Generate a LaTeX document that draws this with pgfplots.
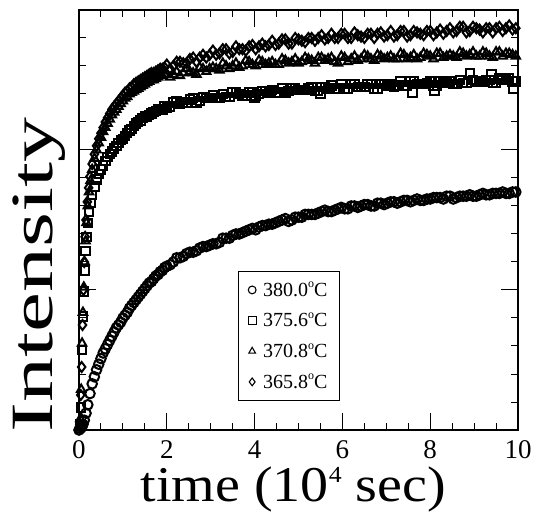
\documentclass[border=0pt]{standalone}
\usepackage{fontspec}
\setmainfont{Liberation Serif}
\usepackage{graphicx}
\usepackage{pgfplots}
\pgfplotsset{compat=1.18}
% small raised degree circle before the C
\newcommand{\degC}{\raisebox{8.5pt}{\fontsize{12}{12}\selectfont o}C}

\begin{document}
\begin{tikzpicture}
\begin{axis}[
  name=ax,
  scale only axis, width=439pt, height=420pt,
  xmin=0, xmax=10, ymin=0, ymax=3,
  xtick={0,2,...,10}, minor x tick num=3,
  ytick={0,1,2,3}, minor y tick num=4, yticklabels={},
  tick align=inside, major tick length=17pt, minor tick length=7pt,
  every tick/.style={black, line width=1pt},
  axis line style={line width=1.5pt},
  /pgf/number format/assume math mode=true,
  xticklabel style={font=\fontsize{27}{27}\selectfont, anchor=base, yshift=-28pt},
  xlabel={\scalebox{1.12}[1]{time (10\raisebox{19pt}{\fontsize{23}{23}\selectfont 4} sec)}},
  xlabel style={font=\fontsize{50}{50}\selectfont, at={(axis description cs:0.488,-0.1714)}, anchor=base, inner sep=0pt},
  ylabel={\scalebox{1.5}[1]{Intensity}},
  ylabel style={font=\fontsize{60}{60}\selectfont, at={(axis description cs:-0.0615,0.37)}, anchor=base, inner sep=0pt},
  legend style={at={(axis description cs:0.478,0.224)}, anchor=center, draw=black, line width=1pt,
    font=\fontsize{20}{23}\selectfont, row sep=11pt, column sep=5pt, inner xsep=10pt, inner ysep=9pt},
  legend cell align=left,
  legend image code/.code={\draw[#1, mark size=3.9pt, mark options={line width=1.1pt}] plot coordinates {(0pt,0pt)};},
  every axis plot/.append style={only marks, black},
]
% 380.0 C
\addplot[mark=o, mark size=4.8pt, mark options={line width=2pt}] coordinates {
(0.00,0.00) (0.03,0.01) (0.06,0.02) (0.09,0.04) (0.12,0.07) (0.16,0.12) (0.20,0.18)
(0.25,0.26) (0.30,0.33) (0.35,0.38) (0.40,0.43) (0.45,0.47) (0.50,0.51) (0.55,0.55)
(0.60,0.58) (0.65,0.61) (0.70,0.64) (0.75,0.67) (0.80,0.70) (0.85,0.73) (0.90,0.75)
(0.95,0.77) (1.00,0.80) (1.05,0.82) (1.10,0.84) (1.15,0.87) (1.20,0.89) (1.25,0.91)
(1.30,0.93) (1.35,0.95) (1.40,0.97) (1.45,0.99) (1.50,1.01) (1.55,1.03) (1.60,1.05)
(1.65,1.06) (1.70,1.08) (1.75,1.10) (1.80,1.11) (1.85,1.13) (1.90,1.14) (1.95,1.16)
(2.00,1.17) (2.075,1.18) (2.15,1.20) (2.225,1.23) (2.30,1.23) (2.375,1.24) (2.45,1.26)
(2.525,1.27) (2.60,1.27) (2.675,1.28) (2.75,1.30) (2.825,1.31) (2.90,1.31) (2.975,1.32)
(3.05,1.33) (3.125,1.33) (3.20,1.34) (3.275,1.37) (3.35,1.37) (3.425,1.37) (3.50,1.39)
(3.575,1.40) (3.65,1.40) (3.725,1.41) (3.80,1.42) (3.875,1.43) (3.95,1.44) (4.025,1.43)
(4.10,1.45) (4.175,1.46) (4.25,1.46) (4.325,1.47) (4.40,1.47) (4.475,1.48) (4.55,1.49)
(4.625,1.50) (4.70,1.51) (4.775,1.49) (4.85,1.50) (4.925,1.52) (5.00,1.52) (5.075,1.52)
(5.15,1.54) (5.225,1.54) (5.30,1.54) (5.375,1.54) (5.45,1.55) (5.525,1.56) (5.60,1.57)
(5.675,1.56) (5.75,1.56) (5.825,1.57) (5.90,1.58) (5.975,1.59) (6.05,1.58) (6.125,1.58)
(6.20,1.60) (6.275,1.60) (6.35,1.59) (6.425,1.60) (6.50,1.61) (6.575,1.61) (6.65,1.60)
(6.725,1.60) (6.80,1.62) (6.875,1.62) (6.95,1.61) (7.025,1.62) (7.10,1.63) (7.175,1.63)
(7.25,1.62) (7.325,1.63) (7.40,1.64) (7.475,1.64) (7.55,1.63) (7.625,1.64) (7.70,1.65)
(7.775,1.64) (7.85,1.64) (7.925,1.65) (8.00,1.65) (8.075,1.66) (8.15,1.66) (8.225,1.66)
(8.30,1.65) (8.375,1.67) (8.45,1.67) (8.525,1.65) (8.60,1.66) (8.675,1.67) (8.75,1.67)
(8.825,1.67) (8.90,1.68) (8.975,1.67) (9.05,1.67) (9.125,1.68) (9.20,1.69) (9.275,1.68)
(9.35,1.68) (9.425,1.69) (9.50,1.69) (9.575,1.69) (9.65,1.70) (9.725,1.69) (9.80,1.69)
(9.875,1.70) (9.95,1.70)
};
\addlegendentry{380.0\degC}
% 375.6 C
\addplot[mark=square, mark size=4.2pt, mark options={line width=2pt}] coordinates {
(0.03,0.04) (0.05,0.16) (0.07,0.57) (0.09,0.81) (0.11,0.99) (0.13,1.14) (0.15,1.28)
(0.17,1.38) (0.20,1.48) (0.23,1.56) (0.26,1.62) (0.30,1.68) (0.35,1.74) (0.40,1.79)
(0.45,1.83) (0.50,1.86) (0.55,1.89) (0.60,1.92) (0.65,1.95) (0.70,1.97) (0.75,1.99)
(0.80,2.01) (0.85,2.03) (0.90,2.05) (0.95,2.07) (1.00,2.08) (1.05,2.10) (1.10,2.12)
(1.15,2.14) (1.20,2.15) (1.25,2.17) (1.30,2.19) (1.35,2.20) (1.40,2.21) (1.45,2.23)
(1.50,2.24) (1.55,2.24) (1.60,2.25) (1.65,2.26) (1.70,2.27) (1.75,2.28) (1.80,2.29)
(1.85,2.29) (1.90,2.29) (1.95,2.31)
(2.00,2.30) (2.075,2.31) (2.15,2.34) (2.225,2.35) (2.30,2.33) (2.375,2.34) (2.45,2.34)
(2.525,2.36) (2.60,2.37) (2.675,2.34) (2.75,2.35) (2.825,2.38) (2.90,2.37) (2.975,2.37)
(3.05,2.39) (3.125,2.37) (3.20,2.37) (3.275,2.40) (3.35,2.38) (3.425,2.38) (3.50,2.41)
(3.575,2.41) (3.65,2.40) (3.725,2.39) (3.80,2.39) (3.875,2.41) (3.95,2.41) (4.00,2.37)
(4.025,2.39) (4.10,2.40) (4.175,2.42) (4.25,2.42) (4.325,2.41) (4.40,2.43) (4.475,2.41)
(4.55,2.41) (4.625,2.44) (4.70,2.41) (4.775,2.42) (4.85,2.44) (4.925,2.44) (5.00,2.43)
(5.075,2.43) (5.15,2.43) (5.225,2.44) (5.30,2.45) (5.375,2.42) (5.45,2.42) (5.50,2.40)
(5.525,2.45) (5.60,2.45) (5.675,2.44) (5.75,2.46) (5.825,2.44) (5.90,2.44) (5.975,2.47)
(6.05,2.44) (6.125,2.44) (6.20,2.47) (6.275,2.47) (6.35,2.45) (6.425,2.45) (6.50,2.45)
(6.575,2.47) (6.65,2.47) (6.725,2.44) (6.80,2.44) (6.875,2.47) (6.95,2.47) (7.025,2.46)
(7.10,2.47) (7.175,2.45) (7.25,2.46) (7.325,2.49) (7.40,2.46) (7.475,2.46) (7.55,2.49)
(7.60,2.41) (7.625,2.49) (7.70,2.47) (7.775,2.47) (7.85,2.47) (7.925,2.48) (8.00,2.49)
(8.075,2.46) (8.10,2.42) (8.15,2.46) (8.225,2.49) (8.30,2.48) (8.375,2.48) (8.45,2.49)
(8.525,2.47) (8.60,2.47) (8.675,2.50) (8.75,2.48) (8.825,2.48) (8.90,2.55) (8.975,2.50)
(9.05,2.49) (9.125,2.49) (9.20,2.49) (9.275,2.50) (9.35,2.50) (9.40,2.54) (9.425,2.48)
(9.50,2.48) (9.575,2.51) (9.65,2.50) (9.725,2.50) (9.80,2.51) (9.875,2.49) (9.90,2.44)
(9.95,2.49)
};
\addlegendentry{375.6\degC}
% 370.8 C
\addplot[mark=triangle, mark size=4.8pt, mark options={line width=2pt}] coordinates {
(0.03,0.08) (0.05,0.29) (0.07,0.62) (0.09,0.84) (0.11,1.02) (0.13,1.20) (0.15,1.35)
(0.17,1.48) (0.20,1.60) (0.23,1.70) (0.26,1.78) (0.30,1.86) (0.35,1.94) (0.40,2.00)
(0.45,2.05) (0.50,2.09) (0.55,2.13) (0.60,2.16) (0.65,2.19) (0.70,2.22) (0.75,2.25)
(0.80,2.27) (0.85,2.29) (0.90,2.31) (0.95,2.33) (1.00,2.35) (1.05,2.37) (1.10,2.38)
(1.15,2.40) (1.20,2.41) (1.25,2.42) (1.30,2.43) (1.35,2.44) (1.40,2.45) (1.45,2.46)
(1.50,2.47) (1.55,2.48) (1.60,2.49) (1.65,2.50) (1.70,2.50) (1.75,2.51) (1.80,2.52)
(1.85,2.53) (1.90,2.53) (1.95,2.54)
(2.00,2.54) (2.075,2.52) (2.15,2.54) (2.225,2.56) (2.30,2.53) (2.375,2.55) (2.45,2.58)
(2.525,2.56) (2.60,2.55) (2.675,2.54) (2.75,2.59) (2.825,2.58) (2.90,2.56) (2.975,2.58)
(3.05,2.59) (3.125,2.58) (3.20,2.57) (3.275,2.62) (3.35,2.60) (3.425,2.58) (3.50,2.60)
(3.575,2.62) (3.65,2.59) (3.725,2.60) (3.80,2.64) (3.875,2.63) (3.95,2.61) (4.025,2.60)
(4.10,2.64) (4.175,2.63) (4.25,2.61) (4.325,2.62) (4.40,2.63) (4.475,2.61) (4.55,2.61)
(4.625,2.65) (4.70,2.64) (4.775,2.62) (4.85,2.63) (4.925,2.65) (5.00,2.62) (5.075,2.63)
(5.15,2.66) (5.225,2.65) (5.30,2.64) (5.375,2.62) (5.45,2.66) (5.525,2.66) (5.60,2.64)
(5.675,2.65) (5.75,2.66) (5.825,2.63) (5.90,2.62) (5.975,2.67) (6.05,2.66) (6.125,2.63)
(6.20,2.65) (6.275,2.67) (6.35,2.64) (6.425,2.65) (6.50,2.68) (6.575,2.67) (6.65,2.65)
(6.725,2.64) (6.80,2.68) (6.875,2.67) (6.95,2.65) (7.025,2.66) (7.10,2.67) (7.175,2.65)
(7.25,2.65) (7.325,2.69) (7.40,2.68) (7.475,2.65) (7.55,2.66) (7.625,2.68) (7.70,2.65)
(7.775,2.66) (7.85,2.69) (7.925,2.68) (8.00,2.67) (8.075,2.65) (8.15,2.69) (8.225,2.69)
(8.30,2.66) (8.375,2.67) (8.45,2.68) (8.525,2.67) (8.60,2.66) (8.675,2.70) (8.75,2.69)
(8.825,2.67) (8.90,2.68) (8.975,2.70) (9.05,2.67) (9.125,2.67) (9.20,2.70) (9.275,2.69)
(9.35,2.67) (9.425,2.66) (9.50,2.70) (9.575,2.70) (9.65,2.67) (9.725,2.69) (9.80,2.69)
(9.875,2.68) (9.95,2.67)
};
\addlegendentry{370.8\degC}
% 365.8 C
\addplot[mark=diamond, mark size=5pt, mark options={line width=2pt}] coordinates {
(0.02,0.04) (0.04,0.25) (0.06,0.45) (0.08,0.75) (0.10,1.00) (0.12,1.20) (0.14,1.38)
(0.16,1.50) (0.19,1.63) (0.22,1.73) (0.25,1.81) (0.30,1.90) (0.35,1.97) (0.40,2.03)
(0.45,2.08) (0.50,2.12) (0.55,2.16) (0.60,2.20) (0.65,2.23) (0.70,2.26) (0.75,2.29)
(0.80,2.31) (0.85,2.33) (0.90,2.35) (0.95,2.37) (1.00,2.39) (1.05,2.41) (1.10,2.42)
(1.15,2.44) (1.20,2.45) (1.25,2.47) (1.30,2.48) (1.35,2.49) (1.40,2.50) (1.45,2.51)
(1.50,2.52) (1.55,2.53) (1.60,2.54) (1.65,2.55) (1.70,2.55) (1.75,2.56) (1.80,2.57)
(1.85,2.58) (1.90,2.58) (1.95,2.59)
(2.00,2.61) (2.075,2.58) (2.15,2.60) (2.225,2.63) (2.30,2.63) (2.375,2.62) (2.45,2.62)
(2.525,2.65) (2.60,2.66) (2.675,2.63) (2.75,2.66) (2.825,2.68) (2.90,2.66) (2.975,2.68)
(3.05,2.71) (3.125,2.68) (3.20,2.69) (3.275,2.72) (3.35,2.72) (3.425,2.69) (3.50,2.70)
(3.575,2.74) (3.65,2.72) (3.725,2.72) (3.80,2.71) (3.875,2.74) (3.95,2.75) (4.025,2.72)
(4.10,2.74) (4.175,2.76) (4.25,2.74) (4.325,2.75) (4.40,2.78) (4.475,2.75) (4.55,2.76)
(4.625,2.79) (4.70,2.79) (4.775,2.76) (4.85,2.76) (4.925,2.80) (5.00,2.79) (5.075,2.78)
(5.15,2.77) (5.225,2.80) (5.30,2.80) (5.375,2.78) (5.45,2.80) (5.525,2.82) (5.60,2.79)
(5.675,2.80) (5.75,2.83) (5.825,2.80) (5.90,2.80) (5.975,2.83) (6.05,2.83) (6.125,2.80)
(6.20,2.80) (6.275,2.84) (6.35,2.82) (6.425,2.81) (6.50,2.80) (6.575,2.83) (6.65,2.83)
(6.725,2.80) (6.80,2.83) (6.875,2.84) (6.95,2.81) (7.025,2.82) (7.10,2.85) (7.175,2.81)
(7.25,2.82) (7.325,2.85) (7.40,2.85) (7.475,2.81) (7.55,2.82) (7.625,2.85) (7.70,2.84)
(7.775,2.83) (7.85,2.82) (7.925,2.85) (8.00,2.85) (8.075,2.82) (8.15,2.84) (8.225,2.86)
(8.30,2.83) (8.375,2.85) (8.45,2.87) (8.525,2.84) (8.60,2.85) (8.675,2.88) (8.75,2.88)
(8.825,2.84) (8.90,2.85) (8.975,2.88) (9.05,2.87) (9.125,2.86) (9.20,2.84) (9.275,2.87)
(9.35,2.87) (9.425,2.84) (9.50,2.87) (9.575,2.88) (9.65,2.85) (9.725,2.87) (9.80,2.89)
(9.875,2.86) (9.95,2.87)
};
\addlegendentry{365.8\degC}
\end{axis}
\pgfresetboundingbox
\useasboundingbox ([shift={(-79pt,-84pt)}]ax.south west) rectangle ([shift={(20pt,10pt)}]ax.north east);
\end{tikzpicture}
\end{document}
